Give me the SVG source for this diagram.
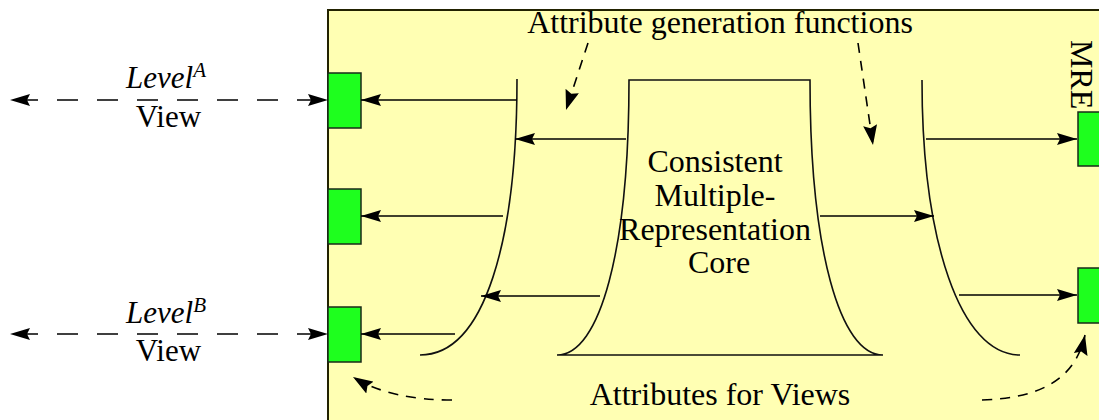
<svg xmlns="http://www.w3.org/2000/svg" width="1099" height="420" viewBox="0 0 1099 420">
  <style>
    .lbl { font-family: "Liberation Serif", "Times New Roman", serif; font-size: 32px; fill: #000; }
    .sm { font-size: 31px; }
    .it { font-style: italic; }
    .port { fill: #1eff1e; stroke: #1a2a1a; stroke-width: 1.5; }
    .line { fill: none; stroke: #000; stroke-width: 1.6; }
    .solid { marker-end: url(#head); }
    .dash-long { stroke-dasharray: 21 19; stroke-dashoffset: 33; }
    .dash-short { stroke-dasharray: 10 8; }
    .shape { fill: none; stroke: #111; stroke-width: 1.6; }
  </style>
  <defs>
    <marker id="head" viewBox="0 0 20 12" refX="20" refY="6" markerWidth="20" markerHeight="12" markerUnits="userSpaceOnUse" orient="auto-start-reverse">
      <path d="M0,0 L20,6 L0,12 L3,6 Z" fill="#000"/>
    </marker>
    <marker id="head-s" viewBox="0 0 20 14" refX="20" refY="7" markerWidth="20" markerHeight="14" markerUnits="userSpaceOnUse" orient="auto">
      <path d="M0,0 L20,7 L0,14 L3,7 Z" fill="#000"/>
    </marker>
  </defs>

  <!-- MRE area -->
  <g id="mre-area">
    <rect x="328" y="10" width="800" height="450" fill="#ffffb3" stroke="#222200" stroke-width="2"/>
    <text class="lbl" x="1071" y="40" transform="rotate(90 1071 40)">MRE</text>
  </g>

  <!-- left and right attribute generation function curves -->
  <g id="gen-left">
    <path class="shape" d="M517,79 C517,240 485,355 420,355"/>
  </g>
  <g id="gen-right">
    <path class="shape" d="M922,80 C922,240 960,355 1020,355"/>
  </g>

  <!-- core -->
  <g id="core">
    <path class="shape" d="M629,80 L810,80 C810,250 840,355 883,355 L557,355 C600,355 629,250 629,80 Z"/>
    <text class="lbl" text-anchor="middle">
      <tspan x="719" y="172">Consistent</tspan>
      <tspan x="719" y="206">Multiple-</tspan>
      <tspan x="719" y="240">Representation</tspan>
      <tspan x="719" y="273">Core</tspan>
    </text>
  </g>

  <!-- ports -->
  <g id="port-a"><rect class="port" x="328" y="73" width="33" height="55"/></g>
  <g id="port-mid"><rect class="port" x="328" y="189" width="33" height="55"/></g>
  <g id="port-b"><rect class="port" x="328" y="307" width="33" height="55"/></g>
  <g id="port-r1"><rect class="port" x="1078" y="112" width="40" height="54"/></g>
  <g id="port-r2"><rect class="port" x="1078" y="268" width="40" height="55"/></g>

  <!-- view labels -->
  <g id="view-a">
    <text class="lbl sm" x="126" y="88"><tspan class="it">Level</tspan><tspan class="it" font-size="21" dy="-11">A</tspan></text>
    <text class="lbl sm" x="168.5" y="127" text-anchor="middle">View</text>
  </g>
  <g id="view-b">
    <text class="lbl sm" x="126" y="323"><tspan class="it">Level</tspan><tspan class="it" font-size="21" dy="-11">B</tspan></text>
    <text class="lbl sm" x="168.5" y="361" text-anchor="middle">View</text>
  </g>

  <!-- captions -->
  <g id="caption-top">
    <text class="lbl" x="720" y="33" text-anchor="middle">Attribute generation functions</text>
  </g>
  <g id="caption-bottom">
    <text class="lbl" x="720" y="405" text-anchor="middle">Attributes for Views</text>
  </g>

  <!-- connectors -->
  <g id="connectors">
    <!-- view exchange -->
    <path class="line dash-long" d="M10,100 L328,100" marker-start="url(#head)" marker-end="url(#head)"/>
    <path class="line dash-long" d="M10,334 L328,334" marker-start="url(#head)" marker-end="url(#head)"/>

    <!-- generation curve to ports -->
    <path class="line solid" d="M517,100 L361,100"/>
    <path class="line solid" d="M503,216 L361,216"/>
    <path class="line solid" d="M455,334 L361,334"/>

    <!-- core to generation curves -->
    <path class="line solid" d="M626,139 L515,139"/>
    <path class="line solid" d="M600,296 L481,296"/>
    <path class="line solid" d="M820,216 L934,216"/>

    <!-- right generation curve to ports -->
    <path class="line solid" d="M926,139 L1077,139"/>
    <path class="line solid" d="M959,295 L1077,295"/>

    <!-- caption pointers -->
    <path class="line dash-short" d="M588,43 L566,110" marker-end="url(#head-s)"/>
    <path class="line dash-short" d="M858,43 L873,145" marker-end="url(#head-s)"/>
    <path class="line dash-short" d="M452,400 Q390,400 353,377" marker-end="url(#head-s)"/>
    <path class="line dash-short" d="M982,400 C1040,398 1075,380 1085,335" marker-end="url(#head-s)"/>
  </g>
</svg>
